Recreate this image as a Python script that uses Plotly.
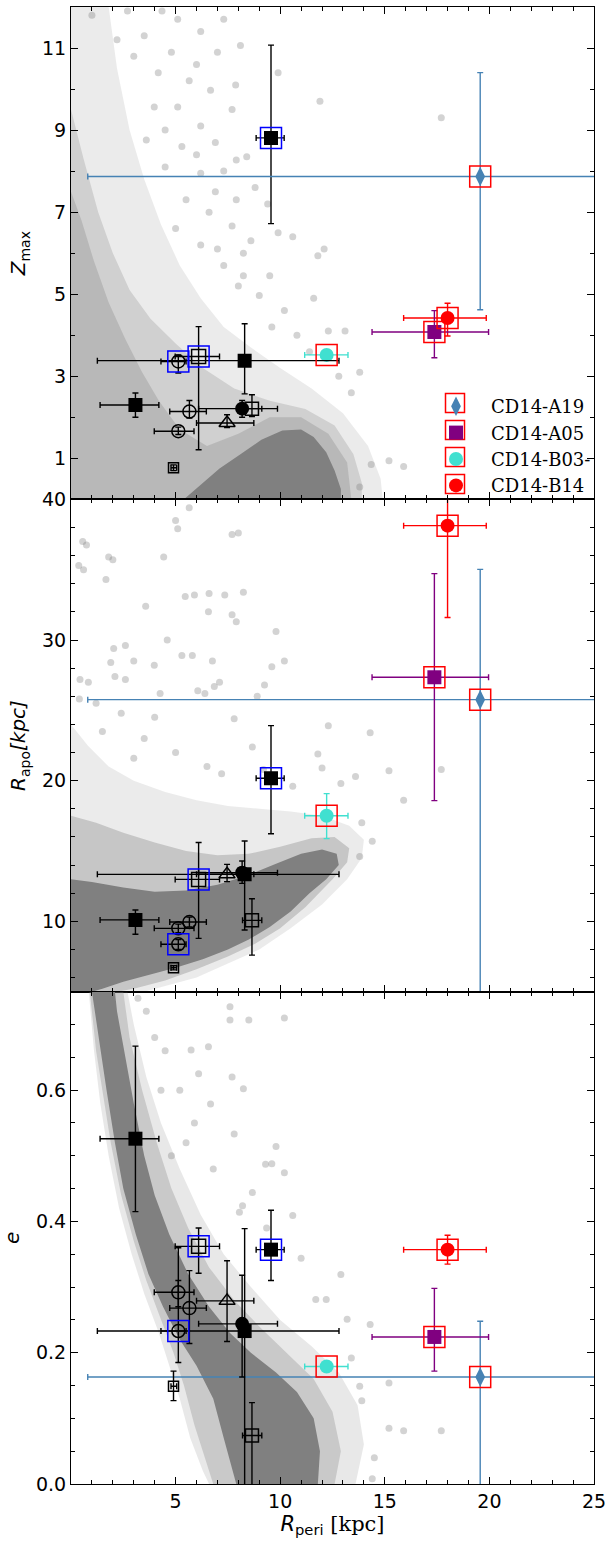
import plotly.graph_objects as go
from plotly.subplots import make_subplots

# ---------------- data: 15 objects (same order in every list) ----------------
labels   = ["A", "CD14-A19", "CD14-B14", "CD14-A05", "CD14-B03-", "F", "G", "H", "I", "J", "K", "L", "M", "N", "O"]
rperi    = [9.56, 19.56, 18.00, 17.37, 12.22, 8.30, 6.10, 5.13, 3.08, 5.66, 8.18, 8.65, 7.46, 5.13, 4.90]
rperi_lo = [8.85, 0.80, 15.90, 14.39, 11.17, 1.26, 4.98, 4.30, 1.39, 4.72, 6.10, 8.20, 6.00, 3.98, 4.78]
rperi_hi = [10.19, 40.0, 19.85, 19.96, 13.24, 12.81, 7.10, 5.50, 4.20, 6.47, 9.87, 9.12, 8.74, 5.88, 5.05]

zmax     = [8.81, 7.87, 4.42, 4.08, 3.52, 3.38, 3.48, 3.36, 2.30, 2.14, 2.21, 2.21, 1.86, 1.66, 0.77]
zmax_lo  = [6.72, 4.62, 3.98, 3.45, 3.42, 2.57, 1.21, 3.08, 2.00, 1.98, 2.00, 2.02, 1.75, 1.58, 0.70]
zmax_hi  = [11.07, 10.40, 4.78, 4.60, 3.62, 4.28, 4.21, 3.52, 2.59, 2.41, 2.41, 2.55, 2.06, 1.76, 0.84]

rapo     = [20.17, 25.76, 38.13, 27.35, 17.51, 13.34, 12.98, 8.37, 10.10, 9.95, 13.45, 10.07, 13.34, 9.50, 6.70]
rapo_lo  = [16.23, 3.0, 31.60, 18.58, 15.88, 9.38, 8.79, 8.00, 9.08, 9.60, 12.70, 7.60, 12.82, 9.20, 6.55]
rapo_hi  = [23.91, 35.02, 44.0, 34.72, 19.08, 15.71, 15.60, 8.70, 10.81, 10.30, 14.29, 11.61, 14.05, 9.80, 6.85]

ecc      = [0.357, 0.163, 0.357, 0.224, 0.179, 0.233, 0.362, 0.233, 0.526, 0.268, 0.244, 0.074, 0.279, 0.292, 0.149]
ecc_lo   = [0.310, -0.05, 0.335, 0.172, 0.172, -0.02, 0.321, 0.185, 0.415, 0.214, 0.163, -0.01, 0.217, 0.270, 0.127]
ecc_hi   = [0.417, 0.248, 0.379, 0.298, 0.186, 0.389, 0.390, 0.360, 0.667, 0.325, 0.318, 0.124, 0.340, 0.310, 0.172]

# styles
symbols  = ["square", "diamond-tall", "circle", "square", "circle", "square", "square-open", "circle-open",
            "square", "circle-open", "circle", "square-open", "triangle-up-open", "circle-open", "square-open"]
colors   = ["black", "steelblue", "red", "purple", "turquoise", "black", "black", "black",
            "black", "black", "black", "black", "black", "black", "black"]
sizes    = [14, 14, 14, 14, 14, 14, 14, 13, 14, 13, 14, 13, 14, 13, 10]
frames   = ["blue", "red", "red", "red", "red", None, "blue", "blue", None, None, None, None, None, None, None]
legend_order = ["CD14-A19", "CD14-A05", "CD14-B03-", "CD14-B14"]

# ---------------- background orbit cloud (outlines) ----------------
top_halo = [(0, 0), (0, 12), (1.8, 12), (2.2, 10.5), (2.8, 9.0), (3.5, 7.8), (4.3, 6.7), (5.2, 5.7), (6.2, 4.9),
            (7.3, 4.2), (8.6, 3.7), (10.0, 3.2), (11.5, 2.7), (13.0, 2.1), (14.2, 1.3), (14.8, 0.5), (14.9, 0)]
top_mid = [(0, 0), (0, 9.5), (0.6, 8.3), (1.3, 7.0), (2.0, 6.0), (2.8, 5.1), (3.8, 4.4), (5.0, 3.8), (6.3, 3.2),
           (7.8, 2.7), (9.5, 2.4), (11.2, 2.2), (12.6, 1.8), (13.5, 1.1), (13.9, 0.4), (13.9, 0)]
top_dense = [(0, 0), (0, 7.5), (0.5, 6.8), (1.1, 5.8), (1.8, 4.8), (2.6, 3.9), (3.4, 3.1), (4.2, 2.4),
             (5.2, 1.7), (6.5, 1.3), (8.0, 1.6), (9.5, 2.0), (11.0, 2.0), (12.3, 1.6), (13.2, 0.9), (13.4, 0)]
top_core = [(5.4, 0), (6.2, 0.35), (7.1, 0.75), (8.1, 1.1), (9.1, 1.45), (10.1, 1.68), (11.0, 1.7), (11.6, 1.52),
            (12.2, 1.15), (12.6, 0.7), (12.9, 0.25), (12.9, 0)]
top_dots = [(1.0, 11.8), (2.7, 11.9), (4.35, 11.9), (5.1, 11.7), (6.2, 11.4), (7.3, 11.7), (8.1, 11.06), (9.9, 10.4),
            (6.67, 9.97), (7.87, 10.1), (5.65, 10.2), (4.17, 10.4), (11.9, 9.7), (17.7, 9.3), (3.98, 9.56),
            (5.1, 9.56), (6.2, 9.1), (7.7, 9.5), (6.9, 8.7), (5.3, 8.6), (3.6, 8.76), (8.4, 8.35), (7.9, 8.27),
            (6.2, 7.95), (4.5, 8.1), (8.8, 7.6), (7.9, 7.3), (6.9, 7.5), (5.5, 7.3), (9.4, 7.2), (9.9, 6.5),
            (8.6, 6.3), (10.6, 6.4), (7.7, 6.66), (6.6, 7.0), (11.8, 5.94), (12.1, 6.1), (8.24, 6.0), (7.3, 5.7),
            (9.5, 5.45), (11.6, 4.9), (8.24, 5.45), (9.0, 4.97), (13.1, 4.1), (12.3, 4.1), (13.8, 3.1),
            (15.2, 0.94), (15.9, 0.8), (14.35, 0.85), (13.8, 0.3), (3.0, 10.8), (2.2, 11.2), (3.5, 11.3),
            (4.8, 10.9), (6.0, 10.6), (7.0, 10.9), (4.5, 9.0), (6.0, 8.4), (7.3, 8.0), (5.0, 6.6), (6.2, 6.2),
            (7.0, 6.1), (8.0, 5.2), (10.2, 4.6), (9.6, 4.2), (10.8, 4.0), (11.4, 3.6), (12.8, 3.0), (13.4, 2.6)]

mid_halo = [(0, 5), (0, 24), (0.8, 22.5), (1.8, 21), (3.0, 20.0), (4.5, 19.2), (6.0, 18.6), (7.5, 18.2), (9.0, 18.0),
            (10.5, 17.8), (12.0, 17.5), (13.3, 16.8), (14.0, 15.8), (13.9, 14.5), (13.2, 13.0), (12.0, 11.2),
            (10.5, 9.5), (9.0, 8.0), (7.5, 7.0), (6.0, 6.0), (4.5, 5.4), (3.5, 5)]
mid_mid = [(0, 5), (0, 17.5), (1.2, 17.0), (2.5, 16.3), (4.0, 15.6), (5.5, 15.0), (7.0, 14.7), (8.5, 14.8),
           (10.0, 15.3), (11.5, 15.9), (12.6, 16.0), (13.3, 15.2), (13.2, 14.2), (12.5, 13.0), (11.2, 11.0),
           (10.0, 9.5), (8.8, 8.4), (7.5, 7.5), (6.0, 6.6), (4.5, 5.8), (3.0, 5.2), (2.2, 5)]
mid_core = [(0, 5), (0, 13.0), (1.0, 12.8), (2.5, 12.4), (4.0, 12.1), (5.5, 12.2), (7.0, 12.6), (8.5, 13.3),
            (9.8, 14.1), (11.0, 14.8), (12.0, 15.1), (12.7, 14.8), (12.8, 14.0), (12.2, 13.0), (11.4, 12.0),
            (10.5, 10.7), (9.5, 9.6), (8.5, 8.7), (7.5, 8.0), (6.3, 7.3), (5.0, 6.7), (3.8, 6.2), (2.5, 5.7),
            (1.5, 5.2), (1.0, 5)]
mid_dots = [(5.0, 38.5), (5.1, 37.9), (5.65, 39.4), (7.7, 37.5), (8.0, 37.6), (0.56, 37.0), (0.74, 36.75),
            (0.37, 35.3), (0.6, 35.0), (1.67, 34.3), (1.8, 35.9), (2.0, 35.7), (4.43, 35.9), (3.57, 32.4),
            (5.46, 33.1), (5.9, 33.2), (6.6, 33.3), (7.35, 33.2), (8.24, 33.4), (6.57, 32.0), (7.7, 31.8),
            (7.9, 31.3), (9.8, 30.6), (4.6, 30.0), (2.04, 29.4), (2.6, 29.6), (3.0, 28.5), (1.9, 28.4),
            (3.98, 28.2), (5.3, 28.9), (5.8, 28.9), (6.76, 28.5), (10.2, 28.5), (9.6, 28.1), (9.25, 26.8),
            (7.1, 27.0), (6.85, 26.7), (6.4, 26.2), (6.06, 26.4), (4.26, 26.2), (8.9, 26.0), (2.1, 27.4),
            (2.6, 27.2), (0.83, 27.0), (0.43, 27.2), (7.8, 24.4), (12.3, 23.9), (14.3, 23.4), (17.7, 20.8),
            (15.2, 20.7), (15.9, 18.6), (14.4, 15.7), (13.8, 14.6), (13.9, 17.0), (13.6, 20.3), (12.9, 19.8),
            (12.0, 20.9), (11.8, 21.9), (8.67, 22.4), (3.5, 23.0), (5.0, 22.0), (6.5, 21.0), (4.0, 24.5),
            (1.2, 25.5), (2.4, 24.8), (1.5, 23.5), (0.4, 25.8), (3.0, 21.6), (7.2, 20.5), (9.2, 20.8), (10.6, 19.6)]

bot_halo = [(0.85, 0.75), (1.1, 0.66), (1.4, 0.58), (1.8, 0.5), (2.3, 0.42), (2.9, 0.35), (3.5, 0.29), (4.2, 0.23),
            (4.7, 0.18), (5.2, 0.13), (5.7, 0.07), (6.3, 0.02), (6.6, 0), (13.6, 0), (14.0, 0.06), (13.7, 0.12),
            (12.8, 0.17), (11.5, 0.21), (10.0, 0.25), (8.6, 0.3), (7.3, 0.35), (6.2, 0.41), (5.2, 0.48),
            (4.3, 0.55), (3.6, 0.62), (3.0, 0.7), (2.7, 0.75)]
bot_mid = [(0.9, 0.75), (1.2, 0.66), (1.5, 0.6), (1.9, 0.52), (2.4, 0.44), (3.0, 0.37), (3.6, 0.31), (4.3, 0.25),
           (4.9, 0.2), (5.4, 0.15), (5.9, 0.09), (6.4, 0.04), (6.8, 0), (12.6, 0), (12.9, 0.05), (12.5, 0.11),
           (11.6, 0.16), (10.3, 0.2), (9.0, 0.24), (7.8, 0.28), (6.6, 0.33), (5.6, 0.39), (4.8, 0.45),
           (4.1, 0.52), (3.4, 0.6), (2.8, 0.68), (2.5, 0.75)]
bot_core = [(1.0, 0.75), (1.4, 0.66), (1.7, 0.6), (2.1, 0.52), (2.5, 0.45), (3.1, 0.38), (3.7, 0.32), (4.4, 0.27),
            (5.2, 0.22), (6.0, 0.18), (6.8, 0.13), (7.3, 0.07), (7.9, 0.0), (11.8, 0.0), (11.9, 0.05),
            (11.6, 0.10), (10.8, 0.14), (9.8, 0.17), (8.6, 0.2), (7.6, 0.23), (6.6, 0.27), (5.6, 0.32),
            (4.7, 0.38), (4.0, 0.44), (3.5, 0.5), (3.0, 0.58), (2.6, 0.65), (2.2, 0.72), (2.1, 0.75)]
bot_dots = [(7.6, 0.727), (7.6, 0.707), (8.5, 0.707), (10.2, 0.71), (6.57, 0.666), (5.74, 0.661), (7.7, 0.62),
            (8.24, 0.602), (6.1, 0.625), (6.67, 0.579), (7.8, 0.533), (9.8, 0.514), (9.3, 0.487), (9.6, 0.488),
            (10.2, 0.474), (8.67, 0.444), (8.2, 0.424), (8.05, 0.414), (10.6, 0.409), (9.35, 0.39), (11.0, 0.344),
            (11.7, 0.281), (12.2, 0.281), (12.9, 0.319), (13.2, 0.251), (14.3, 0.243), (13.4, 0.192),
            (15.2, 0.154), (15.9, 0.081), (15.2, 0.085), (17.7, 0.081), (13.8, 0.149), (13.9, 0.127),
            (14.5, 0.04), (14.4, 0.008), (4.5, 0.66), (5.2, 0.6), (5.9, 0.55), (4.8, 0.5), (6.8, 0.48),
            (3.6, 0.72), (4.0, 0.68), (3.2, 0.74), (4.3, 0.6), (5.5, 0.52)]

panels = [
    dict(row=1, y=zmax, lo=zmax_lo, hi=zmax_hi,
         layers=[(top_halo, 0.16), (top_mid, 0.25), (top_dense, 0.3), (top_core, 1.0)], dots=top_dots),
    dict(row=2, y=rapo, lo=rapo_lo, hi=rapo_hi,
         layers=[(mid_halo, 0.16), (mid_mid, 0.35), (mid_core, 1.0)], dots=mid_dots),
    dict(row=3, y=ecc, lo=ecc_lo, hi=ecc_hi,
         layers=[(bot_halo, 0.18), (bot_mid, 0.3), (bot_core, 1.0)], dots=bot_dots),
]

fig = make_subplots(rows=3, cols=1, shared_xaxes=True, vertical_spacing=0)

for p in panels:
    r = p["row"]
    for poly, alpha in p["layers"]:
        fig.add_trace(go.Scatter(x=[q[0] for q in poly], y=[q[1] for q in poly], mode="lines", fill="toself",
                                 line=dict(width=0), fillcolor=f"rgba(128,128,128,{alpha})",
                                 hoverinfo="skip", showlegend=False), row=r, col=1)
    fig.add_trace(go.Scatter(x=[q[0] for q in p["dots"]], y=[q[1] for q in p["dots"]], mode="markers",
                             marker=dict(size=7, color="rgba(128,128,128,0.35)"), hoverinfo="skip",
                             showlegend=False), row=r, col=1)
    for i in range(len(rperi)):
        col = colors[i]
        open_sym = symbols[i].endswith("open")
        fig.add_trace(go.Scatter(
            x=[rperi[i]], y=[p["y"][i]], mode="markers",
            marker=dict(symbol=symbols[i], size=sizes[i], color=col,
                        line=dict(width=1.5 if open_sym else 0, color=col)),
            error_x=dict(type="data", symmetric=False, array=[rperi_hi[i] - rperi[i]],
                         arrayminus=[rperi[i] - rperi_lo[i]], color=col, thickness=1.4, width=3),
            error_y=dict(type="data", symmetric=False, array=[p["hi"][i] - p["y"][i]],
                         arrayminus=[p["y"][i] - p["lo"][i]], color=col, thickness=1.4, width=3),
            showlegend=False, hoverinfo="skip"), row=r, col=1)
    for i in range(len(rperi)):
        if frames[i]:
            fig.add_trace(go.Scatter(x=[rperi[i]], y=[p["y"][i]], mode="markers",
                                     marker=dict(symbol="square-open", size=21, color=frames[i],
                                                 line=dict(width=1.5, color=frames[i])),
                                     showlegend=False, hoverinfo="skip"), row=r, col=1)

# legend entries (no marks of their own)
for k, name in enumerate(legend_order):
    i = labels.index(name)
    fig.add_trace(go.Scatter(x=[None], y=[None], mode="markers", name=name, legendgroup=name,
                             marker=dict(symbol=symbols[i], size=sizes[i], color=colors[i], line=dict(width=0))),
                  row=1, col=1)

W, H = 605, 1543
ML, MR, MT, MB = 71, 11, 7, 59
PW, PH = W - ML - MR, H - MT - MB
fig.update_layout(
    width=W, height=H, margin=dict(l=ML, r=MR, t=MT, b=MB, autoexpand=False),
    paper_bgcolor="white", plot_bgcolor="white",
    font=dict(family="DejaVu Sans", size=19, color="black"),
    legend=dict(x=(421 - ML) / PW, y=1 - (388 - MT) / PH, xanchor="left", yanchor="top",
                font=dict(family="DejaVu Serif", size=18), bgcolor="rgba(0,0,0,0)", itemwidth=60,
                tracegroupgap=0),
)

# red frames around the legend symbols
for k in range(len(legend_order)):
    cy = 403 + 27 * k
    cx = 455
    fig.add_shape(type="rect", xref="paper", yref="paper",
                  x0=(cx - 9.5 - ML) / PW, x1=(cx + 9.5 - ML) / PW,
                  y0=1 - (cy + 9.5 - MT) / PH, y1=1 - (cy - 9.5 - MT) / PH,
                  line=dict(color="red", width=1.5))

axis_common = dict(showline=True, linecolor="black", linewidth=1.2, mirror="allticks", ticks="inside",
                   ticklen=7, tickwidth=1.2, tickcolor="black", showgrid=False, zeroline=False)
for r in (1, 2, 3):
    fig.update_xaxes(range=[0, 25], tickmode="array", tickvals=[5, 10, 15, 20, 25], ticklabeloverflow="allow",
                     minor=dict(ticks="inside", ticklen=4, tickwidth=1, tickcolor="black", dtick=1, tick0=0),
                     showticklabels=(r == 3), row=r, col=1, **axis_common)
fig.update_xaxes(title=dict(text='<i>R</i><sub>peri</sub> <span style="font-family:DejaVu Serif">[kpc]</span>',
                            font=dict(size=21), standoff=4), row=3, col=1)

fig.update_yaxes(range=[0, 12], tickmode="array", tickvals=[1, 3, 5, 7, 9, 11],
                 minor=dict(ticks="inside", ticklen=4, tickwidth=1, tickcolor="black", dtick=1, tick0=0),
                 title=dict(text="<i>Z</i><sub>max</sub>", font=dict(size=20), standoff=10), row=1, col=1, **axis_common)
fig.update_yaxes(range=[5, 40], tickmode="array", tickvals=[10, 20, 30, 40],
                 minor=dict(ticks="inside", ticklen=4, tickwidth=1, tickcolor="black", dtick=2, tick0=0),
                 title=dict(text="<i>R</i><sub>apo</sub><i>[kpc]</i>", font=dict(size=20), standoff=10),
                 row=2, col=1, **axis_common)
fig.update_yaxes(range=[0, 0.75], tickmode="array", tickvals=[0, 0.2, 0.4, 0.6],
                 ticktext=["0.0", "0.2", "0.4", "0.6"],
                 minor=dict(ticks="inside", ticklen=4, tickwidth=1, tickcolor="black", dtick=0.05, tick0=0),
                 title=dict(text="<i>e</i>", font=dict(size=20), standoff=10), row=3, col=1, **axis_common)

fig.write_html("out.html")
